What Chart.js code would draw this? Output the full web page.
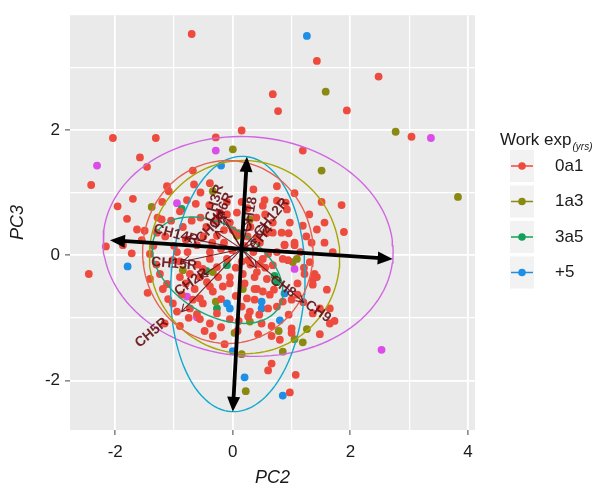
<!DOCTYPE html>
<html>
<head>
<meta charset="utf-8">
<script src="https://cdn.jsdelivr.net/npm/chart.js@4.4.1/dist/chart.umd.min.js"></script>
<style>
  html, body { margin: 0; padding: 0; background: #fff; }
  #wrap { width: 600px; height: 492px; }
</style>
</head>
<body>
<div id="wrap"><canvas id="biplot" width="600" height="492"></canvas></div>
<script>
const FONT = "'Liberation Sans', Arial, sans-serif";

// groups shown in the legend
const groups = ['0a1', '1a3', '3a5', '+5'];
const groupColors = ['#EE4B3F', '#8A8A12', '#15A05A', '#1E8FE6'];
const otherColor = '#DC4CE8';

// scores (PC2, PC3) per group
const pts0a1 = [
  [-0.70,3.53],[0.68,2.57],[0.77,2.30],[0.15,1.99],[1.43,3.10],[2.48,2.85],[1.94,2.31],[3.04,1.89],[1.19,1.67],
  [-2.04,1.87],[-1.31,1.87],[-0.29,1.88],[-2.41,1.12],[-1.58,1.56],[-1.46,1.41],[-0.68,1.35],[-1.12,1.10],
  [-1.09,1.02],[-0.66,1.13],[-0.39,1.15],[-1.70,0.90],[-1.96,0.78],[-1.80,0.58],[-0.78,0.88],[-0.63,0.82],
  [-1.28,0.60],[-1.21,0.57],[-1.50,0.39],[-1.63,0.41],[-1.29,0.36],
  [1.05,0.99],[1.51,0.85],[1.85,0.80],[0.90,0.84],[0.92,0.73],[0.54,0.88],[0.75,0.87],[0.51,0.79],[1.89,0.37],
  [0.97,0.52],[0.68,0.52],[0.58,0.36],[0.83,0.36],[1.19,0.47],[1.43,0.41],[1.56,0.52],[1.05,0.16],[0.88,0.16],
  [1.34,0.20],[1.56,0.20],
  [-2.16,0.14],[-1.87,0.16],[-1.72,0.03],[-2.45,-0.30],[-1.55,0.24],[-1.41,0.02],
  [-1.24,-0.30],[-0.77,0.05],[-0.61,0.16],[-0.39,-0.06],[-0.51,-0.22],[-0.73,-0.30],[-0.44,-0.43],[-0.65,-0.54],
  [-0.87,-0.63],[-0.56,-0.69],[-0.34,-0.58],[-0.27,0.31],[-0.05,0.52],[-0.22,0.68],[0.07,0.68],[0.46,0.20],
  [0.51,-0.06],[0.68,-0.16],[0.85,-0.06],[1.31,-0.11],[0.41,-0.27],[0.58,-0.38],[0.41,-0.54],[0.63,-0.63],
  [0.24,-0.69],[-0.61,-0.94],[-0.73,-0.85],[0.29,-0.90],[0.75,-0.82],[-1.19,-0.54],[-1.41,-0.38],
  [-1.12,-0.46],[-0.90,-0.35],[-0.56,-0.35],[-0.39,-0.50],[-0.17,-0.50],[-0.05,-0.35],[-0.27,-0.19],[-0.10,-0.06],
  [-0.39,0.05],[-0.01,0.08],[-1.02,-0.08],[-0.68,-0.71],[-0.51,-0.77],[-0.56,-1.02],[-0.39,-1.09],[-0.48,-1.21],
  [-0.27,-0.93],[-0.05,-1.02],[-0.34,-1.29],[-1.16,-1.09],[-0.90,-1.13],[-1.02,-0.77],
  [0.41,0.28],[0.68,0.36],[0.88,0.17],[1.05,0.20],[0.60,0.02],[0.26,-0.08],[0.46,-0.14],[0.94,-0.08],[0.17,-0.30],
  [0.37,-0.35],[0.37,-0.54],[0.51,-0.58],[0.37,-0.71],[0.60,-0.85],[1.00,-0.71],[1.10,-0.63],[0.85,-0.74],
  [1.36,-0.39],[1.36,-0.47],[1.43,-0.35],[1.22,-0.30],[1.21,-0.20],[1.39,-0.30],[0.15,-0.82],[0.26,-0.98],
  [0.49,-1.09],[0.08,-1.21],[0.43,-1.26],[0.66,-1.29],[0.66,-1.13],[1.00,-1.24],[1.48,-1.26],[1.65,-1.09],
  [1.48,-0.85],[1.65,-0.85],[1.73,-1.05],[1.36,-0.93],[1.00,-1.17],
  [-0.14,-1.42],[0.66,-1.73],[0.60,-1.84],[1.07,-1.91],[0.97,-2.19],
  [-0.15,0.40],[0.10,0.35],[0.30,0.45],[-0.35,0.20],[0.20,0.15],[-0.20,0.10],[0.05,-0.20],[0.30,-0.15],
  [-0.45,0.45],[0.40,0.60],[0.15,0.85],[-0.10,0.85],[-0.55,0.60],[-0.85,0.45],[-1.00,0.15],[-0.90,-0.10],
  [-1.35,0.15],[-1.15,0.30],[-1.05,0.55],[-0.95,0.05],[-0.80,0.25],[-0.70,0.55],[-0.50,0.30],[-0.30,0.55],
  [-0.15,0.20],[0.00,0.40],[0.25,0.30],[0.35,0.05],[0.15,-0.10],[-0.05,-0.45],[-0.20,-0.70],[0.05,-0.65],
  [0.20,-0.45],[0.55,-0.20],[0.75,0.05],[1.15,0.05],[1.25,0.30],[0.95,0.35],[1.10,-0.45],[0.95,-0.95],
  [0.80,-1.35],[0.45,-0.95],[0.10,-1.05],[-0.20,-1.15],[-0.75,-1.00],[-0.95,-0.90],[-1.10,-0.70],[-1.30,-0.15],
  [-1.45,-0.60],[-0.60,-0.15],[-0.80,-0.45],[-0.25,-0.35],[0.55,0.65],[0.25,0.75],[-0.40,0.80],[-0.90,0.70],
  [1.30,0.65],[1.70,0.05],[1.60,-0.55],[1.20,-0.75],[0.70,-0.55],[-0.10,0.65],[-1.20,0.85],[-0.55,1.00],
  [0.35,1.05],[0.75,1.10]
];
const pts1a3 = [
  [0.00,1.69],[1.58,2.61],[2.77,1.97],[3.83,0.93],[1.51,1.35],[-1.38,0.77],[0.29,0.57],[0.07,0.31],[1.02,-0.11],
  [1.09,-0.06],[-0.85,-0.24],[0.17,-0.54],[-0.29,-0.74],[0.78,-1.21],[0.29,-1.06],[1.26,-1.18],[1.05,-1.34],
  [1.19,-1.39],[0.85,-1.54],[0.15,-1.58],[0.22,-2.17],[0.03,-1.24],[-0.34,-0.27],[-0.34,1.02]
];
const pts3a5 = [
  [-0.87,0.74],[-0.10,-0.16],[0.75,-0.43],[-0.27,-0.85],[0.71,-0.33],[0.20,0.10],[-0.45,-0.25]
];
const ptsPlus5 = [
  [1.26,3.50],[-0.20,1.43],[-1.79,-0.18],[-0.10,-0.77],[-0.05,-0.85],[0.49,-0.85],[0.88,-0.61],
  [0.49,-0.74],[0.80,-1.04],[0.00,-1.53],[0.20,-1.95],[0.85,-2.24]
];
const ptsOther = [
  [-2.31,1.43],[-0.29,1.67],[3.37,1.87],[-0.95,0.83],[1.05,-0.22],[-0.78,-0.66],[-0.61,-0.99],[2.53,-1.51]
];

// concentration ellipses: 0a1, 1a3, 3a5, +5, rest
const ellipseCX = [-0.085, 0.20, -0.26, 0.085, 0.26];
const ellipseCY = [0.05, -0.03, -0.24, -0.46, 0.14];
const ellipseRX = [1.45, 1.62, 1.20, 1.14, 2.47];
const ellipseRY = [1.46, 1.54, 0.72, 2.04, 1.75];
const ellipseTilt = [0, -6, -28, -3, -4];
const ellipseColors = ['#E5624F', '#A8A400', '#14A878', '#12A9CC', '#D265E2'];

// loadings (variable arrows and their labels)
const varNames = ['CH14R', 'CH15R', 'CH2R', 'CH5R', 'CH9', 'CH8', 'CH18', 'CH12R', 'CH3R', 'CH6R', 'CH1R', 'CH4'];
const varTipX = [-0.80, -0.85, -0.55, -0.87, 1.20, 0.40, 0.27, 0.55, -0.25, -0.15, -0.30, 0.40];
const varTipY = [0.28, -0.10, -0.35, -0.90, -0.75, -0.20, 0.55, 0.50, 0.70, 0.60, 0.38, 0.22];
const varLabX = [-0.97, -1.00, -0.70, -1.38, 1.45, 0.85, 0.29, 0.66, -0.31, -0.19, -0.36, 0.49];
const varLabY = [0.33, -0.14, -0.43, -1.24, -0.90, -0.50, 0.65, 0.60, 0.83, 0.71, 0.44, 0.28];
const varAngle = [15, 5, -35, -40, 35, 35, -80, -50, -75, -65, -45, -50];

// main axis arrows
const axisOrigin = [0.15, 0.10];
const axisTipX = [-2.09, 2.72, 0.24, 0.00];
const axisTipY = [0.24, -0.06, 1.57, -2.50];

const toXY = arr => arr.map(p => ({ x: p[0], y: p[1] }));

function ellipsePath(i) {
  const a = ellipseTilt[i] * Math.PI / 180;
  const out = [];
  for (let k = 0; k <= 120; k++) {
    const t = (k / 120) * 2 * Math.PI;
    const ex = ellipseRX[i] * Math.cos(t);
    const ey = ellipseRY[i] * Math.sin(t);
    out.push({
      x: ellipseCX[i] + ex * Math.cos(a) - ey * Math.sin(a),
      y: ellipseCY[i] + ex * Math.sin(a) + ey * Math.cos(a)
    });
  }
  return out;
}

const pointSets = [pts0a1, pts1a3, pts3a5, ptsPlus5, ptsOther];
const pointColors = [...groupColors, otherColor];

const datasets = [];
pointSets.forEach((set, i) => {
  datasets.push({
    label: groups[i] || 'NA',
    data: toXY(set),
    backgroundColor: pointColors[i],
    borderWidth: 0,
    pointRadius: 3.9,
    order: 2
  });
});
ellipseColors.forEach((c, i) => {
  datasets.push({
    label: 'ellipse ' + i,
    data: ellipsePath(i),
    showLine: true,
    borderColor: c,
    borderWidth: 1.4,
    pointRadius: 0,
    fill: false,
    order: 1
  });
});

function arrow(ctx, x0, y0, x1, y1, head, halfW, closed) {
  const ang = Math.atan2(y1 - y0, x1 - x0);
  const back = closed ? head * 0.8 : 0;
  ctx.beginPath();
  ctx.moveTo(x0, y0);
  ctx.lineTo(x1 - back * Math.cos(ang), y1 - back * Math.sin(ang));
  ctx.stroke();
  const bx = x1 - head * Math.cos(ang), by = y1 - head * Math.sin(ang);
  const px = -Math.sin(ang) * halfW, py = Math.cos(ang) * halfW;
  ctx.beginPath();
  ctx.moveTo(bx + px, by + py);
  ctx.lineTo(x1, y1);
  ctx.lineTo(bx - px, by - py);
  if (closed) { ctx.closePath(); ctx.fill(); } else { ctx.stroke(); }
}

// panel background
const panelBg = {
  id: 'panelBg',
  beforeDraw(chart) {
    const { ctx, chartArea: a } = chart;
    ctx.save();
    ctx.fillStyle = '#EAEAEA';
    ctx.fillRect(a.left, a.top, a.right - a.left, a.bottom - a.top);
    ctx.restore();
  }
};

// loadings, labels and axis arrows on top of the points
const biplotLayer = {
  id: 'biplotLayer',
  afterDatasetsDraw(chart) {
    const { ctx, scales: { x, y } } = chart;
    const ox = x.getPixelForValue(axisOrigin[0]), oy = y.getPixelForValue(axisOrigin[1]);
    ctx.save();
    ctx.strokeStyle = 'rgba(100,15,20,0.9)';
    ctx.fillStyle = 'rgba(100,15,20,0.9)';
    ctx.lineWidth = 1.1;
    varNames.forEach((n, i) => {
      arrow(ctx, ox, oy, x.getPixelForValue(varTipX[i]), y.getPixelForValue(varTipY[i]), 7, 4, false);
    });
    ctx.font = 'bold 14px ' + FONT;
    ctx.textAlign = 'center';
    ctx.textBaseline = 'middle';
    varNames.forEach((n, i) => {
      ctx.save();
      ctx.translate(x.getPixelForValue(varLabX[i]), y.getPixelForValue(varLabY[i]));
      ctx.rotate(varAngle[i] * Math.PI / 180);
      ctx.fillText(n, 0, 0);
      ctx.restore();
    });
    ctx.strokeStyle = '#000';
    ctx.fillStyle = '#000';
    ctx.lineWidth = 3.8;
    ctx.lineCap = 'butt';
    axisTipX.forEach((tx, i) => {
      arrow(ctx, ox, oy, x.getPixelForValue(tx), y.getPixelForValue(axisTipY[i]), 15, 6.5, true);
    });
    ctx.restore();
  }
};

// legend with subscripted title
const sideLegend = {
  id: 'sideLegend',
  afterDraw(chart) {
    const ctx = chart.ctx;
    ctx.save();
    ctx.fillStyle = '#1a1a1a';
    ctx.textBaseline = 'middle';
    ctx.textAlign = 'left';
    ctx.font = '17px ' + FONT;
    ctx.fillText('Work exp', 500, 140);
    const w = ctx.measureText('Work exp').width;
    ctx.font = 'italic 10px ' + FONT;
    ctx.fillText('(yrs)', 500 + w + 1, 147);
    groups.forEach((g, i) => {
      const cy = 166 + i * 35.5;
      ctx.fillStyle = '#F2F2F2';
      ctx.fillRect(510, cy - 16, 24, 32);
      ctx.strokeStyle = groupColors[i];
      ctx.lineWidth = 1.5;
      ctx.beginPath();
      ctx.moveTo(511, cy);
      ctx.lineTo(533, cy);
      ctx.stroke();
      ctx.fillStyle = groupColors[i];
      ctx.beginPath();
      ctx.arc(522, cy, 3.8, 0, Math.PI * 2);
      ctx.fill();
      ctx.fillStyle = '#1a1a1a';
      ctx.font = '17px ' + FONT;
      ctx.fillText(g, 555, cy);
    });
    ctx.restore();
  }
};

const isMajor = v => Math.abs(v % 2) < 1e-9;

function axisOptions(min, max, title, isX) {
  return {
    type: 'linear',
    min, max,
    ticks: {
      stepSize: 1,
      includeBounds: false,
      autoSkip: false,
      maxRotation: 0,
      padding: isX ? 7 : 5,
      color: '#1a1a1a',
      font: { size: 17, family: FONT },
      callback: v => isMajor(v) ? String(v) : ''
    },
    grid: {
      color: '#FFFFFF',
      lineWidth: c => isMajor(c.tick.value) ? 1.8 : 1.2,
      tickColor: c => isMajor(c.tick.value) ? '#444' : 'rgba(0,0,0,0)',
      tickLength: 5,
      tickWidth: 1
    },
    border: { display: false },
    title: {
      display: true,
      text: title,
      color: '#1a1a1a',
      font: { size: 18, style: 'italic', family: FONT },
      padding: isX ? { top: 0, bottom: 3 } : { top: 7, bottom: 0 }
    },
    afterFit: s => { if (isX) s.height = 62; else s.width = 70; }
  };
}

new Chart(document.getElementById('biplot'), {
  type: 'scatter',
  data: { datasets },
  options: {
    responsive: false,
    animation: false,
    layout: { padding: { top: 10, right: 125, left: 0, bottom: 0 } },
    plugins: { legend: { display: false }, tooltip: { enabled: false } },
    scales: {
      x: axisOptions(-2.77, 4.12, 'PC2', true),
      y: axisOptions(-2.79, 3.83, 'PC3', false)
    }
  },
  plugins: [panelBg, biplotLayer, sideLegend]
});
</script>
</body>
</html>
